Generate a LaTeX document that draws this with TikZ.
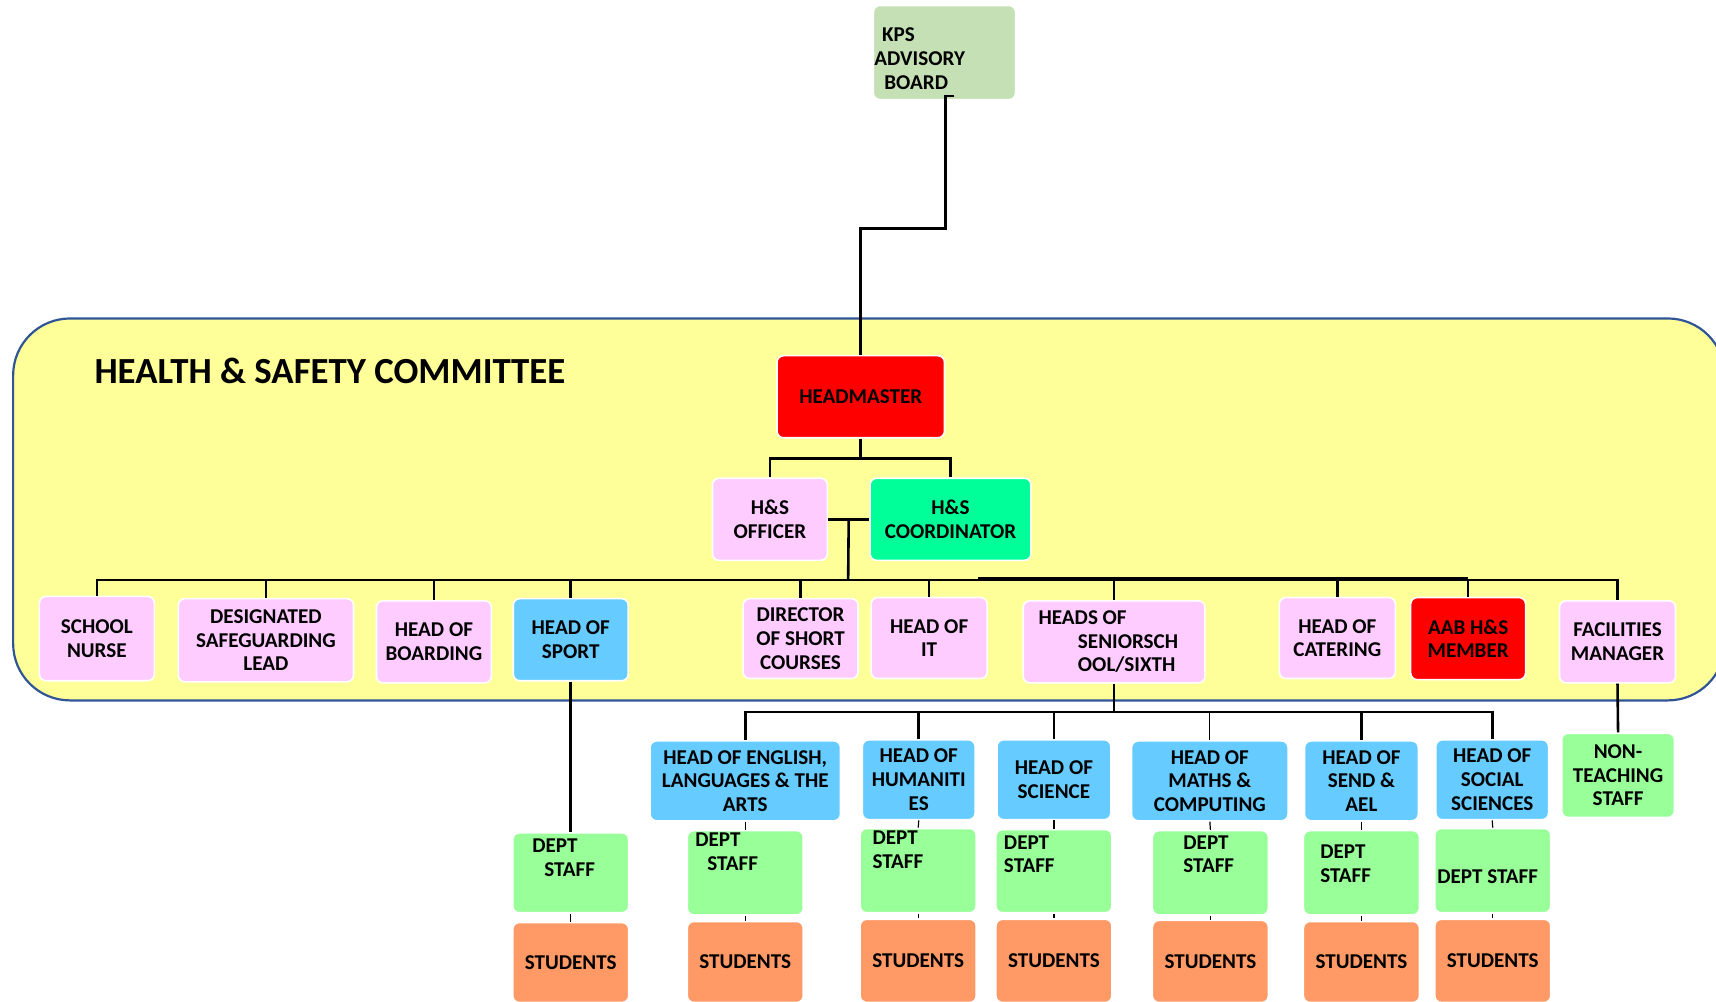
\documentclass[tikz,border=0pt]{standalone}
\usepackage{fontspec}
\setmainfont{Carlito}
\usetikzlibrary{calc}

\newdimen\pxu
\pxu=0.55pt
\newcommand\boxfont{\fontsize{10.6}{11.9}\selectfont\bfseries}
\newcommand\titlefont{\fontsize{18.5}{22}\selectfont\bfseries}

\definecolor{boxpink}{HTML}{FFCCFF}
\definecolor{boxblue}{HTML}{66CCFF}
\definecolor{boxred}{HTML}{FF0000}
\definecolor{boxmint}{HTML}{00FF99}
\definecolor{boxgreen}{HTML}{99FF99}
\definecolor{boxorange}{HTML}{FF9966}
\definecolor{boxsage}{HTML}{C5E0B4}
\definecolor{panelyellow}{HTML}{FFFF99}
\definecolor{panelblue}{HTML}{2F5597}

\begin{document}
\begin{tikzpicture}[x=\pxu, y=-\pxu,
    box/.style={draw=white, line width=0.8pt, rounded corners=3.3pt, inner sep=0pt, align=center, font=\boxfont},
    pinkbox/.style={box, fill=boxpink},
    bluebox/.style={box, fill=boxblue},
    redbox/.style={box, fill=boxred},
    mintbox/.style={box, fill=boxmint},
    greenbox/.style={box, fill=boxgreen},
    orangebox/.style={box, fill=boxorange},
    kpsbox/.style={box, fill=boxsage},
    sz/.style 2 args={minimum width=#1\pxu, minimum height=#2\pxu},
    stafftext/.style={anchor=north west, align=flush left, inner sep=0pt, font=\boxfont},
    conn/.style={line width=1.3pt},
    tick/.style={line width=0.6pt}]

    \useasboundingbox (0,0) rectangle (1568,915);
    \clip (0,0) rectangle (1568,915);

    % committee panel
    \draw[draw=panelblue, line width=1.1pt, fill=panelyellow, rounded corners=52\pxu] (12,291) rectangle (1576,640);
    \node[anchor=base west, inner sep=0pt, font=\titlefont] (title) at (86,350) {HEALTH \& SAFETY COMMITTEE};

    % top
    \node[kpsbox, sz={130}{86}, align=flush left, text width=128\pxu, inner xsep=1\pxu] (kps) at (863,48)
        {\rule{0pt}{24\pxu}\hspace*{7\pxu}KPS\\ADVISORY\\\hspace*{9\pxu}BOARD};
    \node[redbox, sz={153}{75}] (head) at (786.5,362.5) {HEADMASTER};
    \node[pinkbox, sz={105}{75}] (officer) at (703.5,474.5) {H\&S\\OFFICER};
    \node[mintbox, sz={147}{75}] (coord) at (868.5,474.5) {H\&S\\COORDINATOR};

    % committee members
    \node[pinkbox, sz={105}{77}] (nurse) at (88.5,583.5) {SCHOOL\\NURSE};
    \node[pinkbox, sz={160}{76}] (dsl) at (243,585) {DESIGNATED\\SAFEGUARDING\\LEAD};
    \node[pinkbox, sz={105}{75}] (boarding) at (396.5,586.5) {HEAD OF\\BOARDING};
    \node[bluebox, sz={105}{75}] (sport) at (521.5,584.5) {HEAD OF\\SPORT};
    \node[pinkbox, sz={105}{73}] (short) at (731.5,583.5) {DIRECTOR\\OF SHORT\\COURSES};
    \node[pinkbox, sz={106}{74}] (it) at (849,583) {HEAD OF\\IT};
    \node[pinkbox, sz={166}{75}, align=flush left, text width=138\pxu, inner xsep=14\pxu] (senior) at (1018,586.5)
        {HEADS OF\\\hspace*{36\pxu}SENIORSCH\\\hspace*{36\pxu}OOL/SIXTH};
    \node[pinkbox, sz={106}{74}] (catering) at (1222,583) {HEAD OF\\CATERING};
    \node[redbox, sz={105}{75}] (aab) at (1341.5,583.5) {AAB H\&S\\MEMBER};
    \node[pinkbox, sz={106}{75}] (facilities) at (1478,586.5) {FACILITIES\\MANAGER};

    % heads of department
    \node[bluebox, sz={174}{73}] (english) at (681,713.5) {HEAD OF ENGLISH,\\LANGUAGES \& THE\\ARTS};
    \node[bluebox, sz={103}{73}] (humanities) at (839.5,712.5) {HEAD OF\\HUMANITI\\ES};
    \node[bluebox, sz={104}{73}] (science) at (963,712.5) {HEAD OF\\SCIENCE};
    \node[bluebox, sz={143}{73}] (maths) at (1105.5,713.5) {HEAD OF\\MATHS \&\\COMPUTING};
    \node[bluebox, sz={104}{73}] (send) at (1244,713.5) {HEAD OF\\SEND \&\\AEL};
    \node[bluebox, sz={103}{73}] (social) at (1363.5,712.5) {HEAD OF\\SOCIAL\\SCIENCES};
    \node[greenbox, sz={103}{77}] (nonteach) at (1478.5,708.5) {NON-\\TEACHING\\STAFF};

    % dept staff and students
    \foreach \n/\cx/\cy/\h in {1/521.5/797.5/73, 2/681/797.5/77, 3/839/795.5/77, 4/963/796/76,
                              5/1106/797.5/77, 6/1244/797.5/77, 7/1364/795.5/77}
        \node[greenbox, sz={106}{\h}] (staff\n) at (\cx,\cy) {};
    \foreach \n/\cx/\cy/\h in {1/521.5/879.5/73, 2/681/879/74, 3/839/878/76, 4/963/878/76,
                              5/1106/878.5/75, 6/1244/879/74, 7/1364/878/76}
        \node[orangebox, sz={106}{\h}] (stud\n) at (\cx,\cy) {STUDENTS};

    \node[stafftext] (stafftxt1) at (486,766) {DEPT\\\hspace*{11\pxu}STAFF};
    \node[stafftext] (stafftxt2) at (635,761) {DEPT\\\hspace*{11\pxu}STAFF};
    \node[stafftext] (stafftxt3) at (797,759) {DEPT\\STAFF};
    \node[stafftext] (stafftxt4) at (917,763) {DEPT\\STAFF};
    \node[stafftext] (stafftxt5) at (1081,763) {DEPT\\STAFF};
    \node[stafftext] (stafftxt6) at (1206,772) {DEPT\\STAFF};
    \node[stafftext] (stafftxt7) at (1313,794) {DEPT STAFF};

    % connectors
    \draw[conn] ([shift={(9,-4)}]kps.south) -- ++(-8,0) -- ++(0,121) -| (head.north);
    \draw[conn] (head.south) -- ++(0,18) coordinate (hsplit);
    \draw[conn] (officer.north) |- (hsplit) -| (coord.north);
    \draw[conn] (officer.east) -- (coord.west);
    \coordinate (bus) at (775,530);
    \draw[conn] ($(officer.east)!0.5!(coord.west)$) -- (bus);
    \draw[conn] (nurse.north) |- (bus) -| (facilities.north);
    \foreach \n in {dsl,boarding,sport,short,it,senior,catering,aab}
        \draw[conn] (\n.north) -- (\n.north |- bus);
    \draw[conn] (aab.north |- bus) ++(0,-2) -- ++(-448,0);

    \draw[conn] (sport.south) -- (staff1.north);
    \draw[conn] (senior.south) -- ++(0,26) coordinate (bus3);
    \draw[conn] (english.north) |- (bus3) -| (social.north);
    \foreach \n in {humanities,science,send}
        \draw[conn] (\n.north) -- (\n.north |- bus3);
    \draw[tick] (maths.north) -- (maths.north |- bus3);
    \draw[conn] (facilities.south) -- (nonteach.north);

    \foreach \h/\n in {english/2, humanities/3, science/4, maths/5, send/6, social/7}
        \draw[tick] (\h.south) -- (staff\n.north);
    \foreach \n in {1,...,7}
        \draw[tick] (staff\n.south) -- (stud\n.north);
\end{tikzpicture}
\end{document}
